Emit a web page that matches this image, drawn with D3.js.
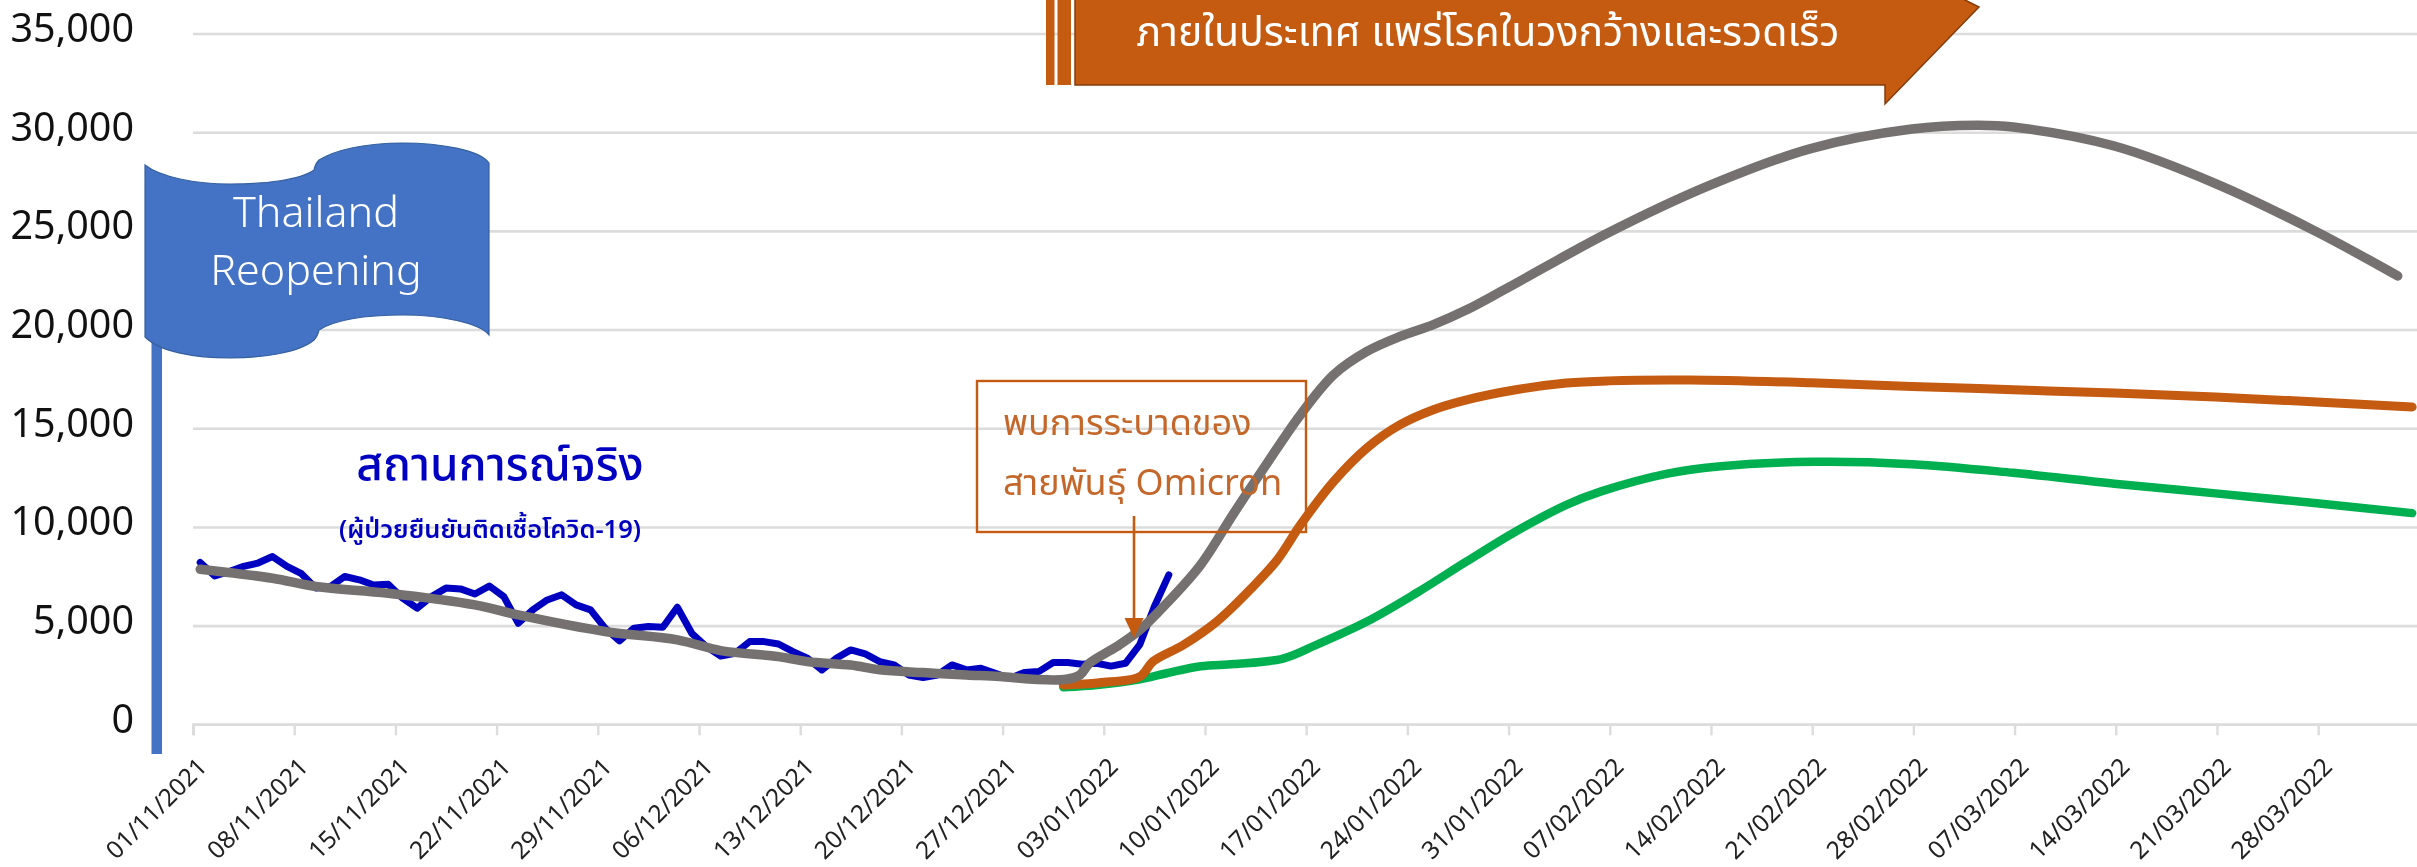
<!DOCTYPE html>
<html><head><meta charset="utf-8">
<script src="https://cdn.jsdelivr.net/npm/d3@7"></script>
<style>
html,body{margin:0;padding:0;background:#fff;overflow:hidden}
svg{display:block;filter:blur(0.6px)}
text{font-family:"Noto Sans","Noto Sans Thai","Open Sans",sans-serif}
</style></head><body>
<svg id="c" width="2417" height="867"></svg>
<script>
const startDate = "2021-11-01";
const tickLabels = ["01/11/2021","08/11/2021","15/11/2021","22/11/2021","29/11/2021","06/12/2021","13/12/2021","20/12/2021","27/12/2021","03/01/2022","10/01/2022","17/01/2022","24/01/2022","31/01/2022","07/02/2022","14/02/2022","21/02/2022","28/02/2022","07/03/2022","14/03/2022","21/03/2022","28/03/2022"];
const yTicks = [0,5000,10000,15000,20000,25000,30000,35000];

// Daily confirmed cases from 01/11/2021
const actualValues = [8200,7520,7740,8000,8170,8500,8000,7630,6900,6980,7490,7320,7060,7100,6390,5880,6470,6900,6860,6600,7010,6470,5120,5800,6300,6560,6050,5800,4870,4225,4870,4950,4920,5930,4610,3940,3460,3600,4190,4190,4070,3680,3346,2755,3346,3770,3566,3177,3008,2500,2366,2500,3008,2755,2840,2585,2332,2620,2670,3127,3127,3042,3090,2950,3090,4050,5966,7570];

// Day numbers counted from 01/11/2021
const greyDays = [0,5,8,13,19,22,28,33,36,40,42,45,47,50,53,55.3,57.6,59.9,60.85,61.5,63.4,65,66.85,69.2,71.5,73.8,76.1,78.4,80.7,83,85.3,87.6,90.4,97.4,104.4,111.4,118.4,122.9,125.4,132.4,139.4,146.4,152];
const greyValues = [7860,7400,6980,6640,6050,5540,4700,4280,3735,3430,3177,3000,2760,2620,2500,2417,2280,2280,2500,3090,3940,4780,6130,8080,10700,13230,15680,17710,18890,19650,20250,21000,22100,24900,27300,29170,30160,30350,30260,29300,27400,24950,22720];

const orangeDays = [59.7,62.2,65,65.9,68,70.3,72.6,74.5,76.1,78.4,80.7,83,85.3,87.6,91,94.5,97.4,103,111.4,118.4,125.4,132.4,139.4,146.4,153];
const orangeValues = [1990,2110,2415,3180,4020,5200,6810,8330,10100,12300,14000,15180,15940,16440,16950,17290,17400,17440,17300,17120,16950,16780,16580,16330,16080];

const greenDays = [59.7,62.2,65,66.85,69.2,71.5,74.9,77.2,80.7,84.1,87.6,91,94.5,96.9,101.4,105,111.7,118.4,125.4,132.4,139.4,146.4,153];
const greenValues = [1875,2000,2280,2585,2940,3050,3330,4022,5205,6640,8250,9770,11120,11800,12690,13060,13300,13180,12740,12190,11700,11200,10700];

const flagLines = ["Thailand","Reopening"];
const actualTitle = "สถานการณ์จริง";
const actualSubtitle = "(ผู้ป่วยยืนยันติดเชื้อโควิด-19)";
const calloutLines = ["พบการระบาดของ","สายพันธุ์ Omicron"];
const bannerText = "ภายในประเทศ แพร่โรคในวงกว้างและรวดเร็ว";

const svg = d3.select("#c");
const DAY = 864e5, t0 = Date.UTC(2021,10,1);
const x = d3.scaleUtc().domain([t0, t0+154*DAY]).range([193, 193+154*14.457]);
const y = d3.scaleLinear().domain([0,35000]).range([724.3,33.5]);
const xDay = d => x(t0+(d+0.5)*DAY);
const parse = d3.utcParse("%d/%m/%Y"), fmt = d3.utcFormat("%d/%m/%Y");

// grid & y axis
const yAxis = svg.append("g").attr("transform","translate(193,0)")
  .call(d3.axisLeft(y).tickValues(yTicks).tickSize(-2224).tickPadding(59).tickFormat(d3.format(",")));
yAxis.select(".domain").remove();
yAxis.selectAll("line").attr("stroke","#DCDCDC").attr("stroke-width",2.6);
yAxis.selectAll("text").attr("font-size",39.5).attr("fill","#111").attr("dy","0.2em").attr("font-weight",400);

// x axis
const xAxis = svg.append("g").attr("transform",`translate(0,${y(0)})`)
  .call(d3.axisBottom(x).tickValues(tickLabels.map(parse)).tickSize(11).tickFormat(fmt));
xAxis.select(".domain").attr("stroke","#DCDCDC").attr("stroke-width",2.6);
xAxis.selectAll("line").attr("stroke","#DCDCDC").attr("stroke-width",2.4);
xAxis.selectAll("text").attr("font-size",24.5).attr("fill","#222")
  .attr("text-anchor","end").attr("dy",0).attr("y",0)
  .attr("transform","translate(15,44) rotate(-45)");

// series
const line = (days,vals,curve)=>d3.line().x((d,i)=>xDay(days[i])).y(d=>y(d)).curve(curve)(vals);
const add = (days,vals,col,w,curve)=>svg.append("path").attr("d",line(days,vals,curve)).attr("fill","none")
  .attr("stroke",col).attr("stroke-width",w).attr("stroke-linecap","round").attr("stroke-linejoin","round");
const smooth = d3.curveCatmullRom.alpha(0.5);
add(actualValues.map((_,i)=>i),actualValues,"#0000C0",7,d3.curveLinear);
add(greenDays,greenValues,"#00B050",8.5,smooth);
add(orangeDays,orangeValues,"#C55A11",9,smooth);
add(greyDays,greyValues,"#767171",9.5,smooth);

// flag
svg.append("rect").attr("x",151.5).attr("y",340).attr("width",10.5).attr("height",414).attr("fill","#4472C4");
svg.append("path").attr("d","M145,165 C160,177 195,184 230,184 C265,184 300,180 314,170 C315,165 317,162 319,160 C335,150 365,143 403,143 C440,143 480,150 489,163 L489,335 C480,323 440,315 403,315 C365,315 335,320 319,330 C318,335 316,338 314,340 C300,352 265,358 230,358 C195,358 160,352 145,337 Z")
  .attr("fill","#4472C4").attr("stroke","#35609F").attr("stroke-width",1.2);
svg.selectAll(".flagT").data(flagLines).join("text").attr("class","flagT").attr("x",316).attr("y",(d,i)=>227+i*58)
  .attr("text-anchor","middle").attr("font-size",43).attr("font-weight",300).attr("fill","#fff").text(d=>d);

// actual label
svg.append("text").attr("x",500).attr("y",480).attr("text-anchor","middle").attr("font-size",46).attr("font-weight",500).attr("fill","#0000C0").text(actualTitle);
svg.append("text").attr("x",490).attr("y",538).attr("text-anchor","middle").attr("font-size",25.5).attr("font-weight",600).attr("fill","#0000C0").text(actualSubtitle);

// callout
svg.append("rect").attr("x",977).attr("y",381).attr("width",329).attr("height",151).attr("fill","none").attr("stroke","#C55A11").attr("stroke-width",2.4);
svg.selectAll(".cal").data(calloutLines).join("text").attr("class","cal").attr("x",1003).attr("y",(d,i)=>435+i*60)
  .attr("font-size",36).attr("fill","#C4672A").text(d=>d);
svg.append("line").attr("x1",1134).attr("x2",1134).attr("y1",516).attr("y2",620).attr("stroke","#C55A11").attr("stroke-width",2.6);
svg.append("path").attr("d","M1124.5,618 L1143.6,618 L1134,638 Z").attr("fill","#C55A11");

// banner
const bar = [[1046,1054.5],[1057.5,1071]];
svg.selectAll(".bar").data(bar).join("rect").attr("class","bar").attr("x",d=>d[0]).attr("y",-5).attr("width",d=>d[1]-d[0]).attr("height",90).attr("fill","#C55A11");
svg.append("path").attr("d","M1075,-5 L1955,-5 L1979,7 L1885,104 L1885,85 L1075,85 Z").attr("fill","#C55A11").attr("stroke","#843C0C").attr("stroke-width",1.5);
svg.append("text").attr("x",1488).attr("y",46).attr("text-anchor","middle").attr("font-size",41).attr("fill","#fff").text(bannerText);
</script></body></html>
